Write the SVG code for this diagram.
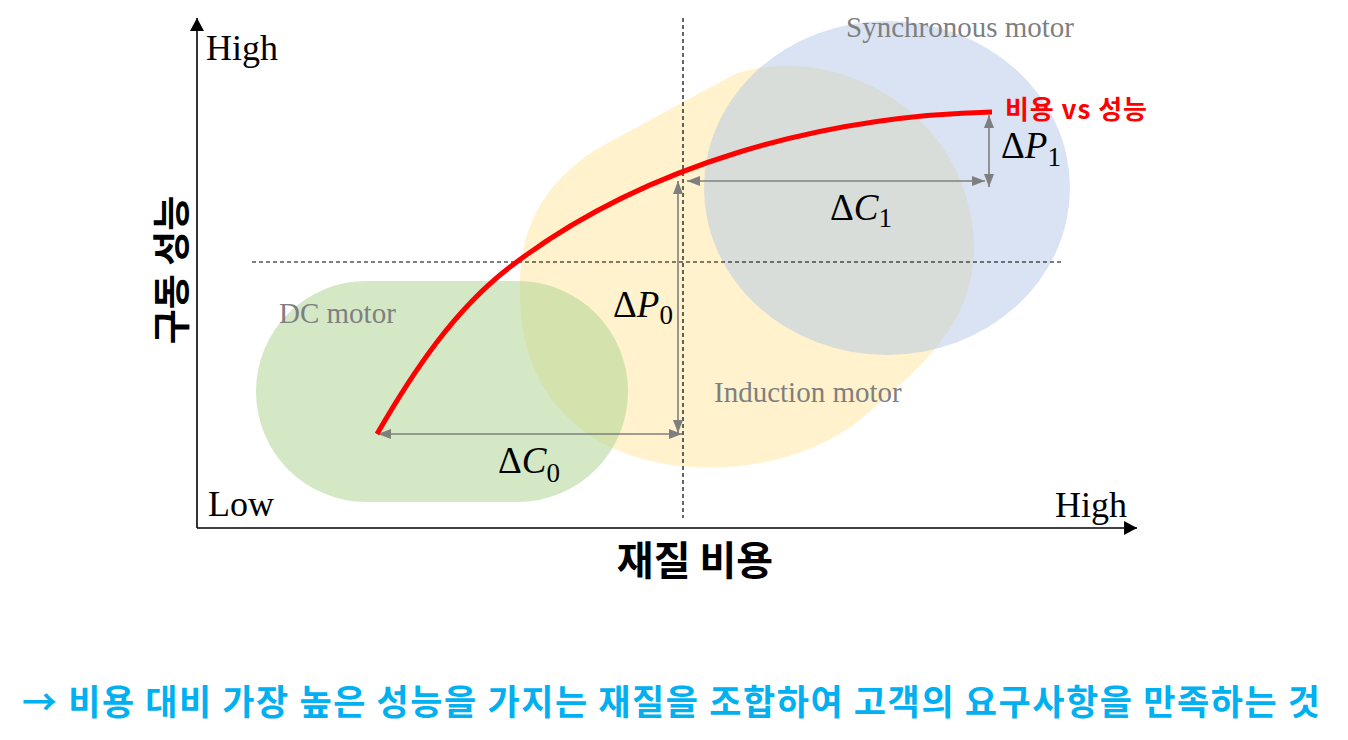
<svg xmlns="http://www.w3.org/2000/svg" width="1348" height="740" viewBox="0 0 1348 740">
<style>
.lbl{font-family:"Liberation Serif","Times New Roman",serif;font-size:36px;fill:#000;}
.motor{font-family:"Liberation Serif","Times New Roman",serif;font-size:29px;fill:#7f7f7f;}
.math{font-family:"Liberation Serif","Times New Roman",serif;font-size:37px;fill:#000;}
.kr{font-family:"Noto Sans CJK KR","Noto Sans",sans-serif;font-weight:bold;}
.dash{stroke:#000;stroke-width:1.2;stroke-dasharray:4 3;fill:none;}
.axis{stroke:#000;stroke-width:1.6;fill:none;}
.meas{stroke:#7f7f7f;stroke-width:1.6;fill:none;marker-start:url(#ga);marker-end:url(#ga);}
</style>
<defs>
<marker id="ga" markerUnits="userSpaceOnUse" markerWidth="14" markerHeight="12" refX="13" refY="5" orient="auto-start-reverse" viewBox="0 0 14 10">
<path d="M0,0 L13,5 L0,10 Z" fill="#7f7f7f"/>
</marker>
<marker id="ba" markerUnits="userSpaceOnUse" markerWidth="14" markerHeight="14" refX="12" refY="6.5" orient="auto" viewBox="0 0 13 13">
<path d="M0,0 L12,6.5 L0,13 Z" fill="#000"/>
</marker>
</defs>
<rect width="1348" height="740" fill="#fff"/>

<g id="induction-motor">
<path d="M520,300 C517,235 538,188 595,150 L735,74 C830,42 965,105 974,240 C976,320 930,360 860,420 C790,475 680,480 610,447 C555,420 522,370 520,300 Z" fill="#ffe699" fill-opacity="0.5"/>
</g>
<g id="dc-motor">
<rect x="256" y="281" width="372" height="221" rx="110.5" ry="110.5" fill="#a9d18e" fill-opacity="0.5"/>
</g>
<g id="synchronous-motor">
<ellipse cx="887" cy="188" rx="183" ry="167" fill="#b4c7e7" fill-opacity="0.5"/>
</g>

<g id="guides">
<line class="dash" x1="683" y1="18" x2="683" y2="518"/>
<line class="dash" x1="252" y1="262" x2="1062" y2="262"/>
</g>

<g id="axes">
<line class="axis" x1="197" y1="528" x2="197" y2="18" marker-end="url(#ba)"/>
<line class="axis" x1="197" y1="528" x2="1137" y2="528" marker-end="url(#ba)"/>
</g>

<g id="connectors">
<line class="meas" x1="378" y1="434" x2="682" y2="434"/>
<line class="meas" x1="678" y1="433" x2="678" y2="181"/>
<line class="meas" x1="687" y1="181" x2="985" y2="181"/>
<line class="meas" x1="989" y1="115" x2="989" y2="187"/>
</g>

<g id="cost-performance-curve">
<path d="M377,434 C412.5,372.6 453.7,310.2 510,267 C643,165 822,116 992,112" fill="none" stroke="#ff0000" stroke-width="5"/>
</g>

<g id="labels">
<text class="lbl" x="206" y="60">High</text>
<text class="lbl" x="208" y="516">Low</text>
<text class="lbl" x="1055" y="517">High</text>
<text class="motor" x="846" y="37">Synchronous motor</text>
<text class="motor" x="279" y="323">DC motor</text>
<text class="motor" x="714" y="402">Induction motor</text>
<text class="kr" x="1005" y="107" font-size="26" fill="#ff0000" dominant-baseline="central" textLength="142" lengthAdjust="spacing">비용 vs 성능</text>
<text class="kr" x="168" y="270" font-size="38" fill="#000" text-anchor="middle" dominant-baseline="central" transform="rotate(-90 168 270)">구동 성능</text>
<text class="kr" x="695" y="558" font-size="40" fill="#000" text-anchor="middle" dominant-baseline="central">재질 비용</text>
<text class="kr" x="22" y="699" font-size="35" fill="#00b0f0" dominant-baseline="central" textLength="1298" lengthAdjust="spacing">→ 비용 대비 가장 높은 성능을 가지는 재질을 조합하여 고객의 요구사항을 만족하는 것</text>
</g>

<g id="math-labels">
<text class="math" x="498" y="473">Δ<tspan font-style="italic">C</tspan><tspan font-size="27" dy="9">0</tspan></text>
<text class="math" x="613" y="317">Δ<tspan font-style="italic">P</tspan><tspan font-size="27" dy="7">0</tspan></text>
<text class="math" x="830" y="220">Δ<tspan font-style="italic">C</tspan><tspan font-size="27" dy="7">1</tspan></text>
<text class="math" x="1001" y="158">Δ<tspan font-style="italic">P</tspan><tspan font-size="27" dy="8">1</tspan></text>
</g>
</svg>
